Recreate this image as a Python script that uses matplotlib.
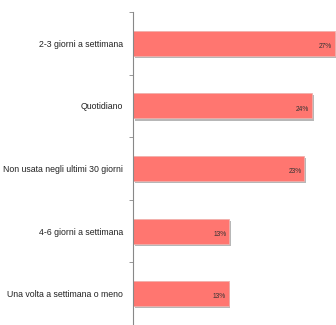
import matplotlib
matplotlib.use("Agg")
import matplotlib.pyplot as plt
import matplotlib.patheffects as pe
import numpy as np

categories = ["2-3 giorni a settimana", "Quotidiano", "Non usata negli ultimi 30 giorni",
              "4-6 giorni a settimana", "Una volta a settimana o meno"]
values = [27.2, 24.1, 23.1, 13.0, 12.9]
value_labels = ["27%", "24%", "23%", "13%", "13%"]

fig = plt.figure(figsize=(3.36, 3.25), dpi=100)
ax = fig.add_axes([133/336, 0.0, 203/336, 313/325])

y = np.arange(len(categories))
bars = ax.barh(y, values, height=0.4, color="#FF7670", edgecolor="#F0B0AC", linewidth=0.6)
for b in bars:
    b.set_path_effects([pe.SimplePatchShadow(offset=(1.2, -1.5), shadow_rgbFace="#888888", alpha=0.6), pe.Normal()])

ax.set_ylim(len(categories) - 0.5, -0.5)
ax.set_xlim(0, 27.35)

fam = ["Liberation Sans Narrow", "Liberation Sans", "DejaVu Sans"]
for yi, v, lab in zip(y, values, value_labels):
    ax.text(v - 0.35, yi + 0.05, lab, ha="right", va="center", fontsize=4.8, family=fam, color="#333333")

ax.set_yticks(y)
ax.set_yticklabels(categories, family=fam, fontsize=6.3, color="#222222")
ax.tick_params(axis="y", length=0, pad=7)
ax.set_yticks(np.arange(-0.5, len(categories), 1), minor=True)
ax.tick_params(axis="y", which="minor", length=3, color="#888888", direction="out")
ax.set_xticks([])
for s in ["top", "right", "bottom"]:
    ax.spines[s].set_visible(False)
ax.spines["left"].set_color("#888888")
ax.spines["left"].set_linewidth(0.8)

fig.savefig("out.png", dpi=100)
